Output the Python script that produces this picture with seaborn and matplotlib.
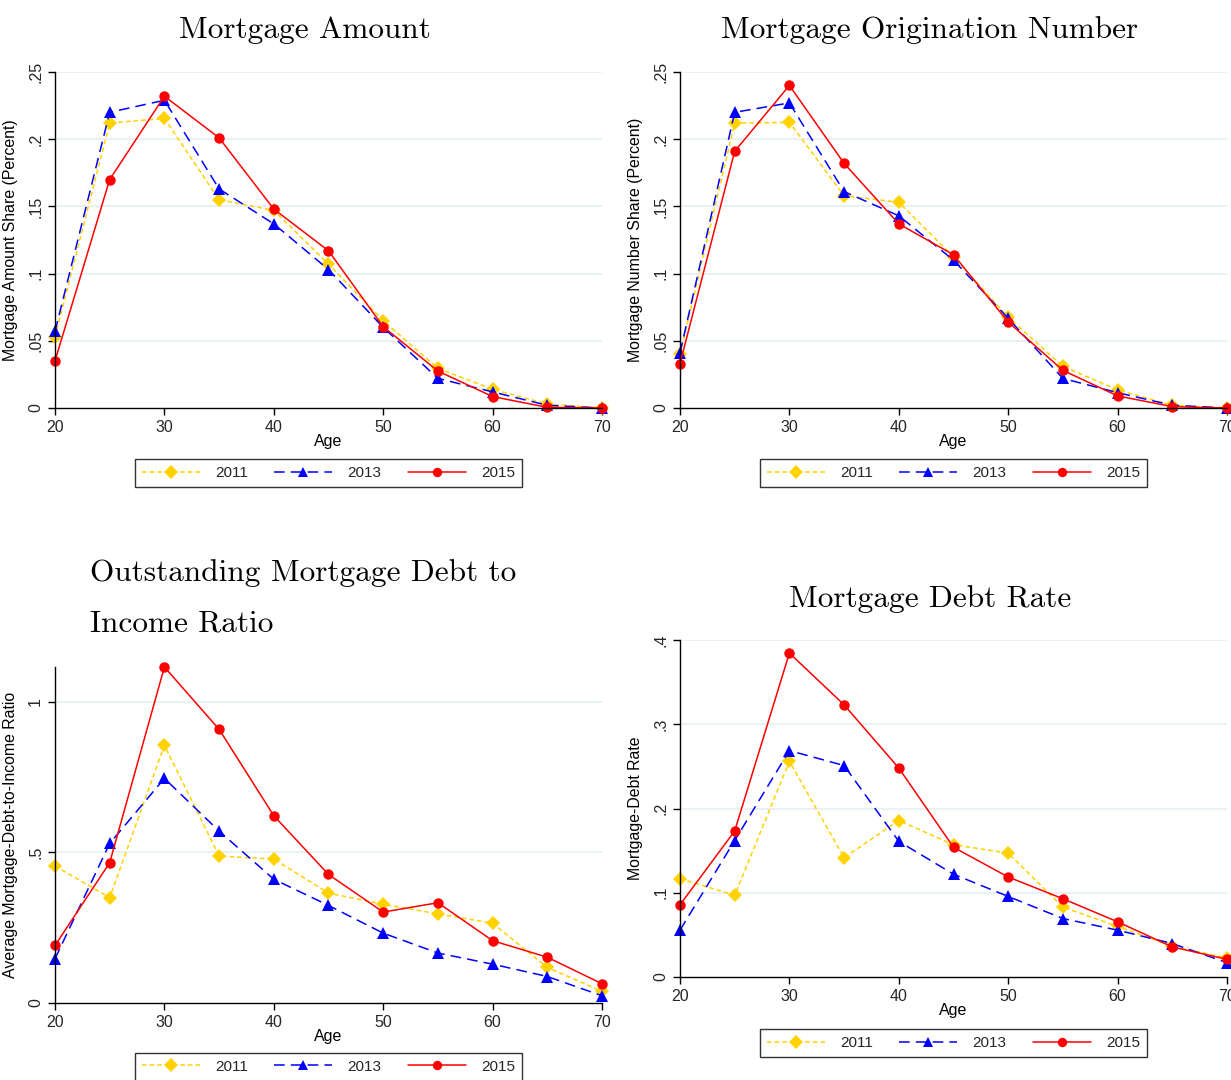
import matplotlib
matplotlib.use("Agg")
import matplotlib.pyplot as plt
import seaborn as sns
import pandas as pd

ages = [20, 25, 30, 35, 40, 45, 50, 55, 60, 65, 70]
years = ["2011", "2013", "2015"]

amount_2011 = [0.053, 0.212, 0.2155, 0.155, 0.147, 0.107, 0.065, 0.0295, 0.014, 0.003, 0.0]
amount_2013 = [0.057, 0.220, 0.229, 0.163, 0.137, 0.103, 0.060, 0.022, 0.012, 0.002, 0.0]
amount_2015 = [0.035, 0.170, 0.232, 0.201, 0.148, 0.117, 0.0605, 0.0275, 0.0085, 0.0005, 0.0]

number_2011 = [0.040, 0.212, 0.2125, 0.158, 0.153, 0.1125, 0.0675, 0.031, 0.0135, 0.002, 0.0]
number_2013 = [0.041, 0.220, 0.227, 0.161, 0.143, 0.110, 0.0667, 0.022, 0.0114, 0.002, 0.0]
number_2015 = [0.033, 0.191, 0.240, 0.182, 0.137, 0.114, 0.064, 0.028, 0.009, 0.001, 0.0]

dti_2011 = [0.455, 0.350, 0.856, 0.488, 0.478, 0.365, 0.328, 0.296, 0.265, 0.118, 0.039]
dti_2013 = [0.147, 0.530, 0.746, 0.571, 0.411, 0.324, 0.232, 0.166, 0.129, 0.088, 0.024]
dti_2015 = [0.191, 0.466, 1.116, 0.909, 0.622, 0.427, 0.302, 0.333, 0.207, 0.152, 0.064]

rate_2011 = [0.1167, 0.097, 0.256, 0.1417, 0.1857, 0.157, 0.147, 0.083, 0.060, 0.0365, 0.0226]
rate_2013 = [0.0556, 0.162, 0.2687, 0.251, 0.161, 0.122, 0.0956, 0.0694, 0.0556, 0.0397, 0.017]
rate_2015 = [0.0857, 0.1734, 0.3845, 0.323, 0.248, 0.154, 0.1187, 0.0929, 0.0655, 0.0357, 0.021]

x_ticks = [20, 30, 40, 50, 60, 70]
share_ticks = [0, 0.05, 0.10, 0.15, 0.20, 0.25]
share_labels = ["0", ".05", ".1", ".15", ".2", ".25"]
dti_ticks = [0, 0.5, 1.0]
dti_labels = ["0", ".5", "1"]
rate_ticks = [0, 0.1, 0.2, 0.3, 0.4]
rate_labels = ["0", ".1", ".2", ".3", ".4"]

sns.set_theme(style="white")
plt.rcParams["font.family"] = ["Liberation Sans", "DejaVu Sans"]

fig = plt.figure(figsize=(12.31, 10.80), dpi=100)
W, H = 1231, 1080

def axes_px(left, right, top, bottom):
    return fig.add_axes([left / W, 1 - bottom / H, (right - left) / W, (bottom - top) / H])

styles = {
    "2011": dict(color="#FFD200", marker="D", markersize=7.5, dashes=(3, 2)),
    "2013": dict(color="#0000FF", marker="^", markersize=8.5, dashes=(7, 4)),
    "2015": dict(color="#FF0000", marker="o", markersize=7.5, dashes=None),
}

panels = [
    dict(box=(55, 602, 72, 408), series=[amount_2011, amount_2013, amount_2015],
         ylim=(0, 0.25), yt=share_ticks, yl=share_labels,
         ylabel="Mortgage Amount Share (Percent)", leg_y=-0.193),
    dict(box=(680, 1227, 72, 408), series=[number_2011, number_2013, number_2015],
         ylim=(0, 0.25), yt=share_ticks, yl=share_labels,
         ylabel="Mortgage Number Share (Percent)", leg_y=-0.193),
    dict(box=(55, 602, 667, 1003), series=[dti_2011, dti_2013, dti_2015],
         ylim=(0, 1.116), yt=dti_ticks, yl=dti_labels,
         ylabel="Average Mortgage-Debt-to-Income Ratio", leg_y=-0.19),
    dict(box=(680, 1227, 640, 977), series=[rate_2011, rate_2013, rate_2015],
         ylim=(0, 0.4), yt=rate_ticks, yl=rate_labels,
         ylabel="Mortgage-Debt Rate", leg_y=-0.196),
]

for p in panels:
    l, r, t, b = p["box"]
    ax = axes_px(l, r, t, b)
    hpx = b - t
    for yr, vals in zip(years, p["series"]):
        st = styles[yr]
        df = pd.DataFrame({"Age": ages, "v": vals})
        kw = dict(color=st["color"], marker=st["marker"], markersize=st["markersize"],
                  markeredgewidth=0, linewidth=1.1, clip_on=False, label=yr)
        sns.lineplot(data=df, x="Age", y="v", ax=ax, **kw)
        line = ax.lines[-1]
        if st["dashes"] is not None:
            line.set_dashes(st["dashes"])
    ax.set_xlim(20, 70)
    ax.set_ylim(*p["ylim"])
    ax.set_xticks(x_ticks)
    ax.set_xticklabels([str(v) for v in x_ticks])
    ax.set_yticks(p["yt"])
    ax.set_yticklabels(p["yl"], rotation=90, va="center")
    ax.tick_params(axis="both", which="major", direction="out", length=5, width=1,
                   color="black", labelsize=11.5, pad=3.5, left=True, bottom=True)
    for s in ["top", "right"]:
        ax.spines[s].set_visible(False)
    for s in ["left", "bottom"]:
        ax.spines[s].set_color("black")
        ax.spines[s].set_linewidth(1.0)
    ax.grid(False)
    for yv in p["yt"][1:]:
        ax.axhline(yv, color="#e6eff2", linewidth=1.2, zorder=0)
    ax.set_xlabel("Age", fontsize=11.5, color="black")
    ax.xaxis.set_label_coords(0.5, -26 / hpx)
    ax.set_ylabel(p["ylabel"], fontsize=11.4, color="black")
    ax.yaxis.set_label_coords(-0.0676, 0.5)
    leg = ax.legend(loc="center", bbox_to_anchor=(0.5, p["leg_y"]), ncol=3,
                    frameon=True, fancybox=False, edgecolor="black", fontsize=11,
                    handlelength=3.8, handletextpad=1.0, columnspacing=1.7,
                    borderpad=0.45, numpoints=1)
    leg.get_frame().set_linewidth(1.0)
    for h in leg.get_lines():
        h.set_markersize(h.get_markersize() * 0.9)

title_kw = dict(family="cmr10", fontsize=22.5, color="black")
fig.text(305 / W, 1 - 30 / H, "Mortgage Amount", ha="center", va="center", **title_kw)
fig.text(930 / W, 1 - 30 / H, "Mortgage Origination Number", ha="center", va="center", **title_kw)
fig.text(90 / W, 1 - 573 / H, "Outstanding Mortgage Debt to", ha="left", va="center", **title_kw)
fig.text(90 / W, 1 - 624 / H, "Income Ratio", ha="left", va="center", **title_kw)
fig.text(930 / W, 1 - 599 / H, "Mortgage Debt Rate", ha="center", va="center", **title_kw)

fig.savefig("out.png", dpi=100, facecolor="white")
